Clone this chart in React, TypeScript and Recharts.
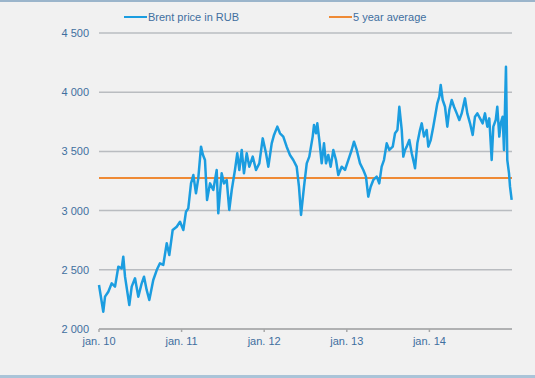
import {
  LineChart,
  Line,
  XAxis,
  YAxis,
  CartesianGrid,
  ReferenceLine,
  Legend,
} from "recharts";

// Brent price in RUB, 2010–2014, with the 5-year average as a flat line.
// Values (weekly-ish samples).

const years = [
  2010.0, 2010.052, 2010.073, 2010.113, 2010.154, 2010.194, 2010.234, 2010.275,
  2010.294, 2010.315, 2010.367, 2010.396, 2010.436, 2010.476, 2010.517, 2010.545,
  2010.577, 2010.609, 2010.657, 2010.699, 2010.738, 2010.778, 2010.82, 2010.851,
  2010.892, 2010.941, 2010.981, 2011.021, 2011.053, 2011.081, 2011.114, 2011.142,
  2011.174, 2011.202, 2011.235, 2011.259, 2011.283, 2011.308, 2011.344, 2011.384,
  2011.425, 2011.444, 2011.485, 2011.513, 2011.546, 2011.577, 2011.607, 2011.646,
  2011.674, 2011.699, 2011.728, 2011.755, 2011.788, 2011.82, 2011.861, 2011.901,
  2011.941, 2011.982, 2012.022, 2012.05, 2012.091, 2012.119, 2012.159, 2012.191,
  2012.231, 2012.272, 2012.312, 2012.352, 2012.393, 2012.421, 2012.446, 2012.482,
  2012.515, 2012.546, 2012.587, 2012.603, 2012.627, 2012.643, 2012.667, 2012.696,
  2012.724, 2012.748, 2012.776, 2012.805, 2012.837, 2012.869, 2012.897, 2012.938,
  2012.978, 2013.018, 2013.059, 2013.087, 2013.12, 2013.16, 2013.2, 2013.232,
  2013.26, 2013.289, 2013.321, 2013.362, 2013.393, 2013.422, 2013.45, 2013.483,
  2013.515, 2013.556, 2013.584, 2013.613, 2013.636, 2013.665, 2013.684, 2013.705,
  2013.725, 2013.757, 2013.786, 2013.814, 2013.826, 2013.854, 2013.886, 2013.907,
  2013.935, 2013.967, 2013.987, 2014.016, 2014.047, 2014.068, 2014.096, 2014.12,
  2014.137, 2014.161, 2014.189, 2014.217, 2014.241, 2014.27, 2014.298, 2014.331,
  2014.362, 2014.391, 2014.431, 2014.459, 2014.492, 2014.524, 2014.552, 2014.58,
  2014.613, 2014.645, 2014.673, 2014.701, 2014.725, 2014.754, 2014.774, 2014.803,
  2014.822, 2014.846, 2014.863, 2014.887, 2014.903, 2014.927, 2014.943, 2014.964,
  2014.976, 2014.996,
];

const brentRub = [
  2372, 2146, 2273, 2315, 2386, 2358, 2526, 2512,
  2611, 2442, 2203, 2358, 2428, 2273, 2386, 2442,
  2330, 2245, 2414, 2498, 2555, 2541, 2724, 2625,
  2836, 2864, 2906, 2836, 2991, 3019, 3230, 3301,
  3146, 3272, 3540, 3470, 3427, 3090, 3230, 3174,
  3343, 2977, 3315, 3230, 3259, 3005, 3174, 3343,
  3484, 3343, 3512, 3315, 3484, 3371, 3456, 3343,
  3399, 3610, 3484, 3371, 3568, 3639, 3709, 3653,
  3625, 3540, 3470, 3427, 3371, 3202, 2963, 3202,
  3399, 3456, 3625, 3723, 3653, 3737, 3597, 3399,
  3568, 3399, 3470, 3371, 3512, 3427, 3301, 3371,
  3343, 3427, 3512, 3582, 3512, 3399, 3343, 3287,
  3118, 3202, 3259, 3287, 3230, 3371, 3427, 3568,
  3512, 3540, 3653, 3681, 3877, 3681, 3456, 3512,
  3540, 3596, 3484, 3399, 3357, 3568, 3681, 3737,
  3625, 3681, 3540, 3596, 3709, 3793, 3906, 3962,
  4061, 3934, 3877, 3709, 3849, 3934, 3877, 3821,
  3765, 3821, 3948, 3821, 3737, 3639, 3793, 3821,
  3779, 3737, 3821, 3709, 3779, 3427, 3709, 3765,
  3877, 3625, 3737, 3793, 3512, 4215, 3427, 3315,
  3202, 3090,
];

const fiveYearAverage = 3275;

const yTicks = [2000, 2500, 3000, 3500, 4000, 4500];
const xTicks = [2010, 2011, 2012, 2013, 2014];

const BLUE = "#1b9de0";
const ORANGE = "#ef8a35";
const TEXT = "#3f6f9f";
const GRID = "#b9bcc0";
const FONT = "'Liberation Sans', Arial, sans-serif";

const data = years.map((t, i) => ({ t, price: brentRub[i] }));

const fmtY = (v: number) => String(v).replace(/(\d)(\d{3})$/, "$1 $2");
const fmtX = (v: number) => `jan. ${String(v).slice(2)}`;

function LegendRow() {
  const item = (color: string, label: string, left: number) => (
    <div style={{ position: "absolute", left, top: 0, display: "flex", alignItems: "center" }}>
      <span style={{ display: "inline-block", width: 23, height: 2, background: color }} />
      <span style={{ marginLeft: 1 }}>{label}</span>
    </div>
  );
  return (
    <div
      style={{
        position: "relative",
        height: 14,
        fontFamily: FONT,
        fontSize: 11,
        color: TEXT,
        lineHeight: "14px",
      }}
    >
      {item(BLUE, "Brent price in RUB", 124)}
      {item(ORANGE, "5 year average", 329)}
    </div>
  );
}

export default function App() {
  return (
    <div
      style={{
        position: "absolute",
        left: 0,
        top: 0,
        width: 535,
        height: 378,
        background: "#f1f1f1",
        overflow: "hidden",
      }}
    >
      <div style={{ position: "absolute", left: 0, top: 0, width: 535, height: 2, background: "#9bb5cb" }} />
      <div style={{ position: "absolute", left: 0, top: 375, width: 535, height: 3, background: "#aac4d8" }} />
      <LineChart
        width={535}
        height={378}
        data={data}
        margin={{ top: 33, right: 23, bottom: 19, left: 0 }}
        style={{ position: "absolute", left: 0, top: 0 }}
      >
        <CartesianGrid vertical={false} stroke={GRID} strokeWidth={1.5} />
        <XAxis
          dataKey="t"
          type="number"
          domain={[2010, 2015]}
          ticks={xTicks}
          tickFormatter={fmtX}
          height={30}
          stroke="#a8a8a8"
          strokeWidth={1.5}
          tickSize={3}
          tickMargin={5}
          tick={{ fill: TEXT, fontSize: 11, fontFamily: FONT }}
        />
        <YAxis
          domain={[2000, 4500]}
          ticks={yTicks}
          tickFormatter={fmtY}
          width={99}
          axisLine={false}
          tickLine={false}
          tickSize={0}
          tickMargin={10}
          tick={{ fill: TEXT, fontSize: 11, fontFamily: FONT }}
        />
        <ReferenceLine y={fiveYearAverage} stroke={ORANGE} strokeWidth={2} />
        <Line
          type="linear"
          dataKey="price"
          stroke={BLUE}
          strokeWidth={2.5}
          strokeLinejoin="round"
          dot={false}
          isAnimationActive={false}
        />
        <Legend
          layout="horizontal"
          verticalAlign="middle"
          align="center"
          wrapperStyle={{ top: 10, left: 0, width: 535 }}
          content={() => <LegendRow />}
        />
      </LineChart>
    </div>
  );
}
